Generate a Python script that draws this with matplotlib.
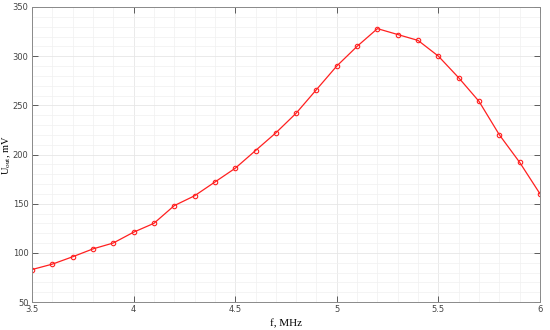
import numpy as np
from matplotlib import pyplot as plt
from matplotlib.ticker import MultipleLocator

plt.rcParams['mathtext.fontset'] = 'stix'

# frequency, in MHz
f = [3.5, 3.6, 3.7, 3.8, 3.9, 4.0, 4.1, 4.2, 4.3, 4.4, 4.5, 4.6, 4.7,
     4.8, 4.9, 5.0, 5.1, 5.2, 5.3, 5.4, 5.5, 5.6, 5.7, 5.8, 5.9, 6.0]
# output voltage, in mV
Uout = [83, 88.5, 96, 104, 110, 121, 130, 148, 158, 172, 186, 204, 222,
        242, 266, 290, 310, 328, 322, 316, 300, 278, 254, 220, 192, 160]

fig = plt.figure(figsize=(5.5, 3.3), dpi=100)
ax = fig.add_axes([32/550, 1 - 302/330, 508/550, 295/330])

ax.plot(f, Uout, '-o', color='#ff2020', lw=0.9, ms=3.2, mfc='none', mew=0.8)

ax.set_xlim(3.5, 6)
ax.set_ylim(50, 350)
ax.xaxis.set_major_locator(MultipleLocator(0.5))
ax.xaxis.set_minor_locator(MultipleLocator(0.1))
ax.yaxis.set_major_locator(MultipleLocator(50))
ax.yaxis.set_minor_locator(MultipleLocator(10))
ax.set_xticklabels([f'{v:g}' for v in ax.get_xticks()])

ax.grid(which='major', color='#e6e6e6', lw=0.6)
ax.grid(which='minor', color='#f0f0f0', lw=0.5)
ax.set_axisbelow(True)

ax.tick_params(which='major', direction='in', length=4, width=0.6,
               top=True, right=True, labelsize=6, colors='#444444', pad=2.5)
ax.tick_params(which='minor', length=0, top=True, right=True)
for s in ax.spines.values():
    s.set_color('#8a8a8a')
    s.set_linewidth(0.7)

ax.set_xlabel('f, MHz', family='Liberation Serif', fontsize=8, labelpad=3)
ax.set_ylabel(r'U$_{\mathrm{out}}$, mV', family='Liberation Serif', fontsize=7.5,
              va='center')
ax.yaxis.set_label_coords(-0.050, 0.5)

fig.savefig('out.png', dpi=100)
